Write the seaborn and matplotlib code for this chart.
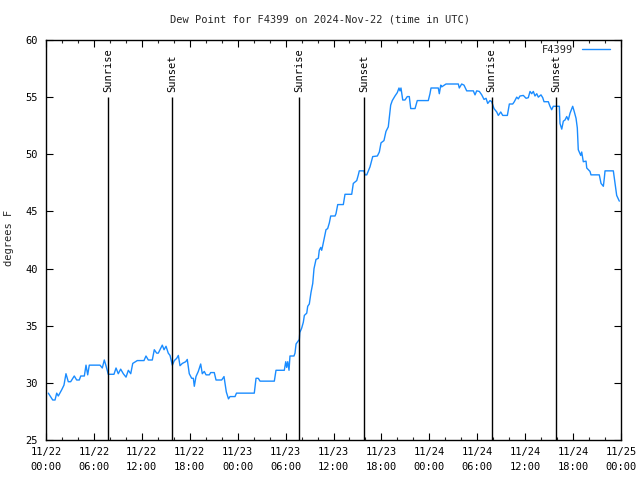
import numpy as np
import pandas as pd
import matplotlib
matplotlib.use("Agg")
import matplotlib.pyplot as plt
import matplotlib.dates as mdates
import seaborn as sns

# ---- data (hours after 2024-11-22 00:00 UTC, dew point in F) ----
hours = [0.29, 0.84, 1.13, 1.34, 1.54, 1.97, 2.25, 2.50, 2.79, 3.09, 3.54, 3.84, 4.17, 4.35,
         4.80, 5.01, 5.22, 5.42, 6.76, 7.05, 7.30, 7.51, 7.80, 8.51, 8.77, 9.05, 9.35, 9.68,
         10.02, 10.31, 10.61, 10.86, 11.43, 12.27, 12.52, 12.81, 13.31, 13.56, 13.86, 14.06,
         14.28, 14.56, 14.78, 15.03, 15.31, 15.53, 15.82, 16.07, 16.37, 16.57, 16.78, 17.07,
         17.49, 17.69, 17.94, 18.24, 18.45, 18.57, 18.78, 19.07, 19.37, 19.57, 19.82, 20.04,
         20.45, 20.62, 21.07, 21.29, 22.00, 22.29, 22.58, 22.85, 23.04, 23.67, 23.85, 26.08,
         26.30, 26.58, 26.80, 28.59, 28.80, 29.84, 30.02, 30.14, 30.27, 30.43, 30.55, 31.05,
         31.18, 31.31, 31.52, 31.72, 31.78, 32.02, 32.22, 32.35, 32.65, 32.77, 32.97, 33.18,
         33.40, 33.56, 33.81, 34.10, 34.22, 34.40, 34.52, 34.65, 34.85, 35.06, 35.27, 35.48,
         35.65, 36.19, 36.31, 36.53, 37.23, 37.44, 38.28, 38.48, 38.91, 39.11, 39.23, 39.82,
         39.95, 40.16, 40.57, 40.91, 41.49, 41.74, 41.95, 42.32, 42.57, 42.86, 43.16, 43.36,
         43.70, 43.99, 44.20, 44.33, 44.45, 44.67, 44.95, 45.24, 45.49, 45.67, 46.21, 46.49,
         47.87, 48.08, 48.21, 49.12, 49.25, 49.43, 49.55, 50.09, 51.63, 51.75, 52.05, 52.34,
         52.68, 53.51, 53.72, 53.93, 54.26, 54.56, 54.85, 55.10, 55.31, 55.60, 55.81, 56.10,
         56.44, 56.64, 56.94, 57.19, 57.77, 58.02, 58.44, 58.64, 58.94, 59.14, 59.35, 59.77,
         60.11, 60.39, 60.61, 60.82, 61.02, 61.23, 61.45, 61.65, 61.98, 62.20, 62.36, 62.90,
         63.11, 63.32, 63.52, 63.86, 64.28, 64.36, 64.58, 64.78, 64.99, 65.20, 65.40, 65.62,
         65.95, 66.12, 66.37, 66.53, 66.65, 66.96, 67.08, 67.28, 67.62, 67.71, 68.12, 68.24,
         69.28, 69.50, 69.79, 69.91, 70.00, 71.04, 71.25, 71.46, 71.79]
dewpoint = [29.1, 28.5, 28.5, 29.1, 28.85, 29.4, 29.8, 30.8, 30.1, 30.1, 30.6, 30.25, 30.25, 30.6,
            30.6, 31.55, 30.7, 31.55, 31.55, 31.3, 32.0, 31.5, 30.75, 30.75, 31.3, 30.8, 31.2, 30.8,
            30.5, 31.1, 30.8, 31.7, 31.95, 31.95, 32.35, 32.0, 32.0, 32.9, 32.6, 32.6,
            32.9, 33.3, 32.9, 33.2, 32.6, 32.4, 31.55, 31.95, 32.15, 32.4, 31.5, 31.7,
            31.85, 32.05, 30.8, 30.4, 30.4, 29.7, 30.55, 31.0, 31.65, 30.8, 31.0, 30.7,
            30.7, 30.9, 30.9, 30.25, 30.25, 30.55, 29.2, 28.6, 28.8, 28.8, 29.1, 29.1,
            30.4, 30.4, 30.15, 30.15, 31.1, 31.1, 31.85, 31.35, 31.85, 31.1, 32.35, 32.35,
            32.6, 33.4, 33.6, 33.8, 34.4, 34.8, 35.3, 35.9, 36.1, 36.7, 36.9, 37.9,
            38.7, 40.0, 40.8, 40.9, 41.6, 41.85, 41.6, 42.0, 42.7, 43.4, 43.5, 44.0,
            44.6, 44.6, 44.8, 45.6, 45.6, 46.5, 46.5, 47.45, 47.7, 48.2, 48.55, 48.55,
            48.2, 48.2, 48.9, 49.8, 49.85, 50.2, 51.0, 51.2, 52.0, 52.4, 54.3, 54.7,
            55.1, 55.4, 55.8, 55.55, 55.8, 54.75, 54.75, 55.05, 55.05, 54.0, 54.0, 54.7,
            54.7, 55.3, 55.8, 55.8, 55.3, 56.05, 55.9, 56.15, 56.15, 55.8, 56.15, 56.05,
            55.55, 55.55, 55.2, 55.55, 55.5, 55.2, 54.8, 54.9, 54.45, 54.7, 54.6, 54.0,
            53.7, 53.4, 53.7, 53.4, 53.4, 54.4, 54.4, 54.6, 55.0, 54.85, 55.1, 55.15,
            54.9, 54.95, 55.5, 55.3, 55.5, 55.1, 55.3, 55.0, 55.2, 54.95, 54.6, 54.6,
            54.2, 53.9, 54.2, 54.2, 54.2, 52.7, 52.2, 52.9, 53.0, 53.3, 53.0, 53.6,
            54.2, 53.8, 53.15, 52.3, 50.4, 49.9, 50.2, 49.35, 49.4, 48.8, 48.5, 48.2,
            48.2, 47.45, 47.2, 47.9, 48.55, 48.55, 47.45, 46.4, 45.9]

sunrise_hours = [7.78, 31.73, 55.80]
sunset_hours = [15.82, 39.83, 63.85]
event_top = 55.0
series_name = "F4399"
title = "Dew Point for F4399 on 2024-Nov-22 (time in UTC)"
ylabel = "degrees F"

start = pd.Timestamp("2024-11-22 00:00")
df = pd.DataFrame({
    "time": start + pd.to_timedelta(hours, unit="h"),
    "dewpoint": dewpoint,
})
sunrise_t = start + pd.to_timedelta(sunrise_hours, unit="h")
sunset_t = start + pd.to_timedelta(sunset_hours, unit="h")

sns.set_theme(style="white")
plt.rcParams["font.family"] = ["DejaVu Sans Mono"]
FS = 7.5

fig = plt.figure(figsize=(6.4, 4.8), dpi=100)
ax = fig.add_axes([46 / 640, 1 - 440 / 480, (621 - 46) / 640, 400 / 480])

sns.lineplot(data=df, x="time", y="dewpoint", ax=ax, color="#1a8cff",
             linewidth=1.0, label=series_name)

# event lines
for t in sunrise_t:
    ax.vlines(t, 25, event_top, color="black", linewidth=1.0)
    ax.text(t, 55.45, "Sunrise", rotation=90, ha="center", va="bottom",
            fontsize=FS, color="black")
for t in sunset_t:
    ax.vlines(t, 25, event_top, color="black", linewidth=1.0)
    ax.text(t, 55.45, "Sunset", rotation=90, ha="center", va="bottom",
            fontsize=FS, color="black")

ax.set_xlim(start, start + pd.Timedelta(hours=72))
ax.set_ylim(25, 60)
ax.set_yticks(np.arange(25, 61, 5))
ax.xaxis.set_major_locator(mdates.HourLocator(byhour=[0, 6, 12, 18]))
ax.xaxis.set_minor_locator(mdates.HourLocator(byhour=range(0, 24, 2)))
ax.xaxis.set_major_formatter(mdates.DateFormatter("%m/%d\n%H:%M"))

ax.set_xlabel("")
ax.set_ylabel("")
for s in ax.spines.values():
    s.set_color("black")
    s.set_linewidth(1.0)
    s.set_visible(True)

ax.tick_params(axis="both", which="major", direction="in", length=5, width=0.8,
               top=True, right=True, bottom=True, left=True, labelsize=FS,
               colors="black", pad=6)
ax.tick_params(axis="x", which="minor", direction="in", length=2.5, width=0.8,
               top=True, bottom=True)
ax.tick_params(axis="x", which="major", pad=5)
for lbl in ax.get_xticklabels():
    lbl.set_linespacing(1.6)

leg = ax.legend(loc="upper right", bbox_to_anchor=((610 - 46) / 575, (440 - 45) / 400),
                frameon=False, fontsize=FS, markerfirst=False,
                handlelength=2.7, borderaxespad=0.0, borderpad=0.0, handletextpad=0.8)

fig.text(320 / 640, 1 - 19 / 480, title, ha="center", va="center", fontsize=FS)
fig.text(9 / 640, 1 - 238 / 480, ylabel, ha="center", va="center", rotation=90,
         fontsize=FS)

fig.savefig("out.png", dpi=100, facecolor="white")
